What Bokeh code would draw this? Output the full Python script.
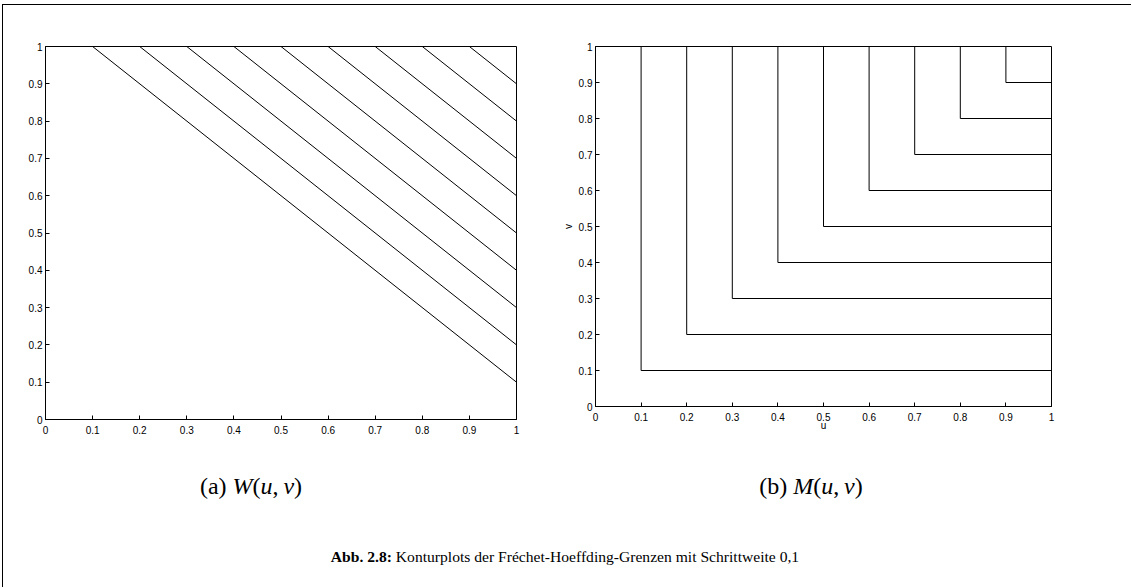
from bokeh.plotting import figure
from bokeh.layouts import row, column
from bokeh.models import Range1d, FixedTicker, Div
from bokeh.embed import file_html
from bokeh.resources import INLINE

# Contour levels of the Fréchet-Hoeffding bounds, step 0.1
levels = [0.1, 0.2, 0.3, 0.4, 0.5, 0.6, 0.7, 0.8, 0.9]

# Axis ticks and their labels
tick_values = [0, 0.1, 0.2, 0.3, 0.4, 0.5, 0.6, 0.7, 0.8, 0.9, 1]
tick_labels = ["0", "0.1", "0.2", "0.3", "0.4", "0.5", "0.6", "0.7", "0.8", "0.9", "1"]

caption_a = "(a) <i>W</i>(<i>u</i>,&#8201;<i>v</i>)"
caption_b = "(b) <i>M</i>(<i>u</i>,&#8201;<i>v</i>)"
caption_main = "<b>Abb. 2.8:</b> Konturplots der Fréchet-Hoeffding-Grenzen mit Schrittweite 0,1"

SANS = "Liberation Sans"
SERIF = "Liberation Serif"


def panel(width, height, borders, xlabel=None, ylabel=None):
    left, right, top, bottom = borders
    p = figure(width=width, height=height,
               x_range=Range1d(0, 1), y_range=Range1d(0, 1),
               output_backend="svg", toolbar_location=None,
               min_border_left=left, min_border_right=right,
               min_border_top=top, min_border_bottom=bottom)
    p.grid.visible = False
    p.outline_line_color = "black"
    p.outline_line_alpha = 1.0
    p.outline_line_width = 1
    p.background_fill_color = "white"
    p.border_fill_color = "white"
    for ax in (p.xaxis[0], p.yaxis[0]):
        ax.ticker = FixedTicker(ticks=tick_values)
        ax.major_label_overrides = dict(zip(tick_values, tick_labels))
        ax.major_tick_in = 4
        ax.major_tick_out = 0
        ax.major_tick_line_color = "black"
        ax.minor_tick_line_color = None
        ax.axis_line_color = "black"
        ax.major_label_text_font = SANS
        ax.major_label_text_font_size = "10px"
        ax.major_label_text_color = "black"
        ax.axis_label_text_font = SANS
        ax.axis_label_text_font_size = "10px"
        ax.axis_label_text_font_style = "normal"
        ax.axis_label_text_color = "black"
    p.xaxis[0].major_label_standoff = 6
    p.xaxis[0].axis_label_standoff = -4
    p.yaxis[0].major_label_standoff = 3
    p.yaxis[0].axis_label_standoff = 2
    if xlabel:
        p.xaxis[0].axis_label = xlabel
    if ylabel:
        p.yaxis[0].axis_label = ylabel
    return p


# (a) lower bound W(u,v) = max(u+v-1, 0): level c lies on u + v = 1 + c
pa = panel(556, 457, (42, 43, 41, 43))
pa.multi_line(xs=[[c, 1] for c in levels], ys=[[1, c] for c in levels],
              line_color="black", line_width=1)

# (b) upper bound M(u,v) = min(u,v): level c is the corner through (c, c)
pb = panel(572, 444, (33, 80, 39, 43), xlabel="u", ylabel="v")
pb.multi_line(xs=[[c, c, 1] for c in levels], ys=[[1, c, c] for c in levels],
              line_color="black", line_width=1)

span = "position:absolute;transform:translate(-50%,-50%);white-space:nowrap;"
html = (
    f'<div style="position:relative;width:1128px;height:125px;font-family:\'{SERIF}\';color:#000;">'
    f'<span style="{span}left:248px;top:24px;font-size:24px;">{caption_a}</span>'
    f'<span style="{span}left:808px;top:24px;font-size:24px;">{caption_b}</span>'
    f'<span style="{span}left:562px;top:95px;font-size:15.6px;">{caption_main}</span>'
    '</div>'
)
captions = Div(text=html, width=1128, height=125, margin=0)

layout = column(row(pa, pb), captions, margin=(4, 0, 0, 2),
                styles={"border-top": "1.5px solid #000", "border-left": "1.5px solid #000",
                        "background": "white"})

open("out.html", "w").write(file_html(layout, INLINE))
